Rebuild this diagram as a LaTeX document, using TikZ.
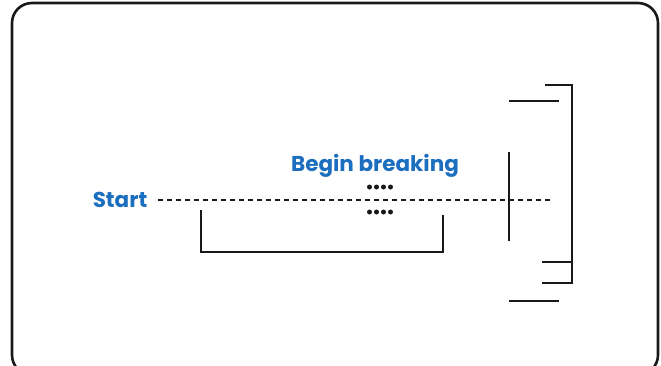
\documentclass[tikz,border=0pt]{standalone}
\usepackage{fontspec}
\setmainfont{Poppins}
\usepackage{tikz}
\usetikzlibrary{arrows}
\usetikzlibrary{calc}
\definecolor{labelblue}{RGB}{28,110,190}

\begin{document}
\begin{tikzpicture}[x=1pt,y=-1pt]
                \useasboundingbox (0,0) rectangle (661,365);
                \draw[line width=2.6pt,black!90,rounded corners=20pt] (12,3) rectangle (658,375);
                \begin{scope}[line width=2.6pt,black!90, label node/.style={text=labelblue,font=\bfseries\fontsize{21.5}{24}\selectfont,inner sep=0pt}]
                \node[label node] (start) at (120,200) {Start};
                \node[label node] (begin) at (375,166) {Begin breaking};
                % run line
                \coordinate (end) at (553,200);
                \draw[line width=2.8pt,dash pattern=on 5pt off 4pt] (158,200) -- (end);
                \foreach \x in {369.5,376.5,383.5,390.5} {
                    \fill (\x,187) circle (2.5pt);
                    \fill (\x,212) circle (2.5pt);
                }
                % lower bracket
                \coordinate (b1) at (201,210);
                \coordinate (b2) at (443,215);
                \draw (b1) -- (b1 |- 0,252) -- (b2 |- 0,252) -- (b2);
                % right side
                \coordinate (m1) at (509,152);
                \coordinate (m2) at (509,241);
                \draw (m1) -- (m2);
                \coordinate (t1) at (509,101);
                \coordinate (t2) at (559,101);
                \draw (t1) -- (t2);
                \coordinate (u1) at (509,301);
                \coordinate (u2) at (559,301);
                \draw (u1) -- (u2);
                \coordinate (r1) at (545,85);
                \coordinate (r2) at (572,85);
                \coordinate (r3) at (572,283);
                \coordinate (r4) at (542,283);
                \draw (r1) -- (r2) -- (r3) -- (r4);
                \coordinate (s1) at (542,262);
                \draw (s1) -- (s1 -| r2);
                \end{scope}
            \end{tikzpicture}
\end{document}
